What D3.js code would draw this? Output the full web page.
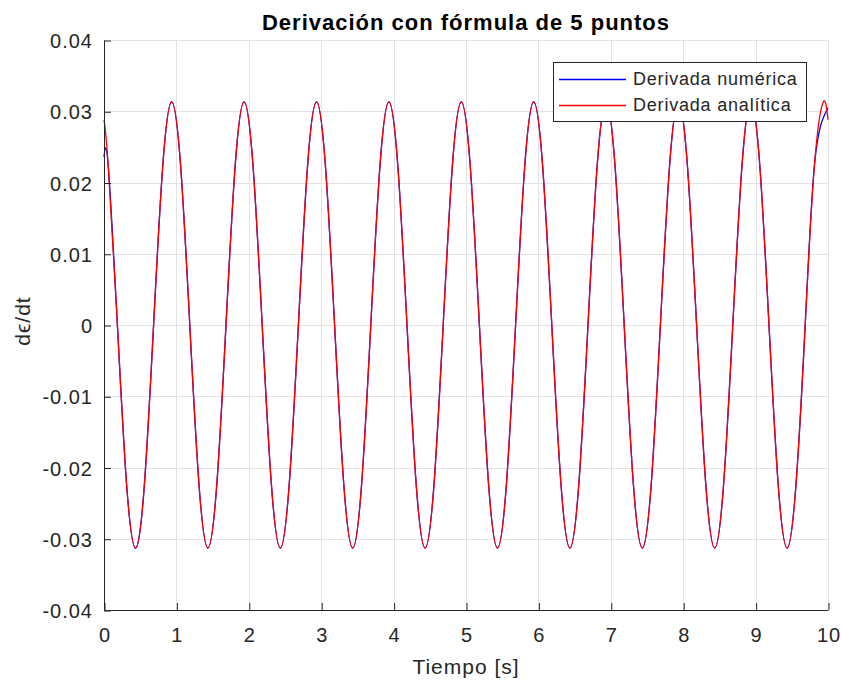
<!DOCTYPE html>
<html>
<head>
<meta charset="utf-8">
<script src="https://cdn.jsdelivr.net/npm/d3@7"></script>
<style>
  html, body { margin: 0; padding: 0; background: #fff; }
  svg { display: block; }
  text { font-family: "Liberation Sans", Arial, Helvetica, sans-serif; }
</style>
</head>
<body>
<svg id="chart" width="842" height="682"></svg>
<script>
// Sample times [s]
const time = [
  0, 0.06, 0.185, 0.31, 0.435, 0.56, 0.685, 0.81, 0.935,
  1.06, 1.185, 1.31, 1.435, 1.56, 1.685, 1.81, 1.935,
  2.06, 2.185, 2.31, 2.435, 2.56, 2.685, 2.81, 2.935,
  3.06, 3.185, 3.31, 3.435, 3.56, 3.685, 3.81, 3.935,
  4.06, 4.185, 4.31, 4.435, 4.56, 4.685, 4.81, 4.935,
  5.06, 5.185, 5.31, 5.435, 5.56, 5.685, 5.81, 5.935,
  6.06, 6.185, 6.31, 6.435, 6.56, 6.685, 6.81, 6.935,
  7.06, 7.185, 7.31, 7.435, 7.56, 7.685, 7.81, 7.935,
  8.06, 8.185, 8.31, 8.435, 8.56, 8.685, 8.81, 8.935,
  9.06, 9.185, 9.31, 9.435, 9.56, 9.685, 9.81, 9.935,
  10
];

// Analytic derivative
const analitica = [
  0.0288, 0.0221, 0, -0.0221, -0.0313, -0.0221, 0, 0.0221, 0.0313,
  0.0221, 0, -0.0221, -0.0313, -0.0221, 0, 0.0221, 0.0313,
  0.0221, 0, -0.0221, -0.0313, -0.0221, 0, 0.0221, 0.0313,
  0.0221, 0, -0.0221, -0.0313, -0.0221, 0, 0.0221, 0.0313,
  0.0221, 0, -0.0221, -0.0313, -0.0221, 0, 0.0221, 0.0313,
  0.0221, 0, -0.0221, -0.0313, -0.0221, 0, 0.0221, 0.0313,
  0.0221, 0, -0.0221, -0.0313, -0.0221, 0, 0.0221, 0.0313,
  0.0221, 0, -0.0221, -0.0313, -0.0221, 0, 0.0221, 0.0313,
  0.0221, 0, -0.0221, -0.0313, -0.0221, 0, 0.0221, 0.0313,
  0.0221, 0, -0.0221, -0.0313, -0.0221, 0, 0.0221, 0.0313,
  0.0288
];

// Numerical derivative (5-point formula, one-sided at the ends)
const numerica = [
  0.0236, 0.0221, 0, -0.0221, -0.0313, -0.0221, 0, 0.0221, 0.0313,
  0.0221, 0, -0.0221, -0.0313, -0.0221, 0, 0.0221, 0.0313,
  0.0221, 0, -0.0221, -0.0313, -0.0221, 0, 0.0221, 0.0313,
  0.0221, 0, -0.0221, -0.0313, -0.0221, 0, 0.0221, 0.0313,
  0.0221, 0, -0.0221, -0.0313, -0.0221, 0, 0.0221, 0.0313,
  0.0221, 0, -0.0221, -0.0313, -0.0221, 0, 0.0221, 0.0313,
  0.0221, 0, -0.0221, -0.0313, -0.0221, 0, 0.0221, 0.0313,
  0.0221, 0, -0.0221, -0.0313, -0.0221, 0, 0.0221, 0.0313,
  0.0221, 0, -0.0221, -0.0313, -0.0221, 0, 0.0221, 0.0313,
  0.0221, 0, -0.0221, -0.0313, -0.0221, 0, 0.0221, 0.0291,
  0.0305
];

const xTicks = [0, 1, 2, 3, 4, 5, 6, 7, 8, 9, 10];
const yTicks = [-0.04, -0.03, -0.02, -0.01, 0, 0.01, 0.02, 0.03, 0.04];
const yTickLabels = ["-0.04", "-0.03", "-0.02", "-0.01", "0", "0.01", "0.02", "0.03", "0.04"];

const seriesNames = ["Derivada numérica", "Derivada analítica"];
const seriesColors = ["#0000ff", "#ff0000"];

const titleText = "Derivación con fórmula de 5 puntos";
const xLabelText = "Tiempo [s]";
const yLabelText = "d\u03F5/dt";

// Layout
const W = 842, H = 682;
const plot = { left: 104, right: 828, top: 40, bottom: 610 };
const axisColor = "#262626";
const gridColor = "#e3e3e3";

const svg = d3.select("#chart");

const x = d3.scaleLinear().domain([0, 10]).range([plot.left, plot.right]);
const y = d3.scaleLinear().domain([-0.04, 0.04]).range([plot.bottom, plot.top]);

const crisp = v => Math.round(v) + 0.5;

// Grid
const grid = svg.append("g");
grid.selectAll(".gx").data(xTicks).join("line")
  .attr("x1", d => crisp(x(d))).attr("x2", d => crisp(x(d)))
  .attr("y1", plot.top).attr("y2", plot.bottom)
  .attr("stroke", gridColor).attr("stroke-width", 1);
grid.selectAll(".gy").data(yTicks).join("line")
  .attr("y1", d => crisp(y(d))).attr("y2", d => crisp(y(d)))
  .attr("x1", plot.left).attr("x2", plot.right)
  .attr("stroke", gridColor).attr("stroke-width", 1);

// Curves
const rowsNum = time.map((t, i) => ({ t, v: numerica[i] }));
const rowsAna = time.map((t, i) => ({ t, v: analitica[i] }));
const line = d3.line().x(d => x(d.t)).y(d => y(d.v)).curve(d3.curveNatural);

svg.append("path").datum(rowsNum)
  .attr("d", line).attr("fill", "none")
  .attr("stroke", seriesColors[0]).attr("stroke-width", 1.3);
svg.append("path").datum(rowsAna)
  .attr("d", line).attr("fill", "none")
  .attr("stroke", seriesColors[1]).attr("stroke-width", 1.3);

// Axes (ticks inside)
const xAxis = d3.axisBottom(x).tickValues(xTicks).tickSizeInner(-7).tickSizeOuter(0)
  .tickFormat(d3.format("d"));
const gx = svg.append("g").attr("transform", `translate(0.5,${crisp(plot.bottom) - 0.5})`).call(xAxis);
gx.select(".domain").attr("stroke", axisColor).attr("d", `M${plot.left},0.5H${plot.right}`);
gx.selectAll(".tick line").attr("stroke", axisColor);
gx.selectAll(".tick text")
  .attr("y", 18).attr("dy", "0.71em")
  .attr("fill", axisColor).style("font-size", "20px").style("letter-spacing", "1px");

const yAxis = d3.axisLeft(y).tickValues(yTicks).tickSizeInner(-7).tickSizeOuter(0)
  .tickFormat((d, i) => yTickLabels[i]);
const gy = svg.append("g").attr("transform", `translate(${crisp(plot.left) - 0.5},0.5)`).call(yAxis);
gy.select(".domain").attr("stroke", axisColor).attr("d", `M0.5,${plot.top}V${plot.bottom}`);
gy.selectAll(".tick line").attr("stroke", axisColor);
gy.selectAll(".tick text")
  .attr("x", -11).attr("dy", "0.36em")
  .attr("fill", axisColor).style("font-size", "20px").style("letter-spacing", "1px");
svg.selectAll(".tick text").attr("font-family", null);

// Title and axis labels
svg.append("text")
  .attr("x", (plot.left + plot.right) / 2).attr("y", 30)
  .attr("text-anchor", "middle")
  .style("font-size", "22px").style("font-weight", "bold").style("letter-spacing", "1px")
  .attr("fill", "#000").text(titleText);

svg.append("text")
  .attr("x", (plot.left + plot.right) / 2).attr("y", 674)
  .attr("text-anchor", "middle")
  .style("font-size", "21px").style("letter-spacing", "1px")
  .attr("fill", axisColor).text(xLabelText);

svg.append("text")
  .attr("transform", `translate(30,${(plot.top + plot.bottom) / 2 - 4}) rotate(-90)`)
  .attr("text-anchor", "middle")
  .style("font-size", "21px").style("letter-spacing", "1px")
  .attr("fill", axisColor).text(yLabelText);

// Legend
const legend = svg.append("g");
legend.append("rect")
  .attr("x", 553.5).attr("y", 62.5).attr("width", 253).attr("height", 59)
  .attr("fill", "#fff").attr("stroke", axisColor).attr("stroke-width", 1);
seriesNames.forEach((name, i) => {
  const ly = 79 + i * 26;
  legend.append("line")
    .attr("x1", 559).attr("x2", 626).attr("y1", ly + 0.5).attr("y2", ly + 0.5)
    .attr("stroke", seriesColors[i]).attr("stroke-width", 1.3);
  legend.append("text")
    .attr("x", 633).attr("y", ly).attr("dy", "0.36em")
    .style("font-size", "18px").style("letter-spacing", "0.8px")
    .attr("fill", axisColor).text(name);
});
</script>
</body>
</html>
